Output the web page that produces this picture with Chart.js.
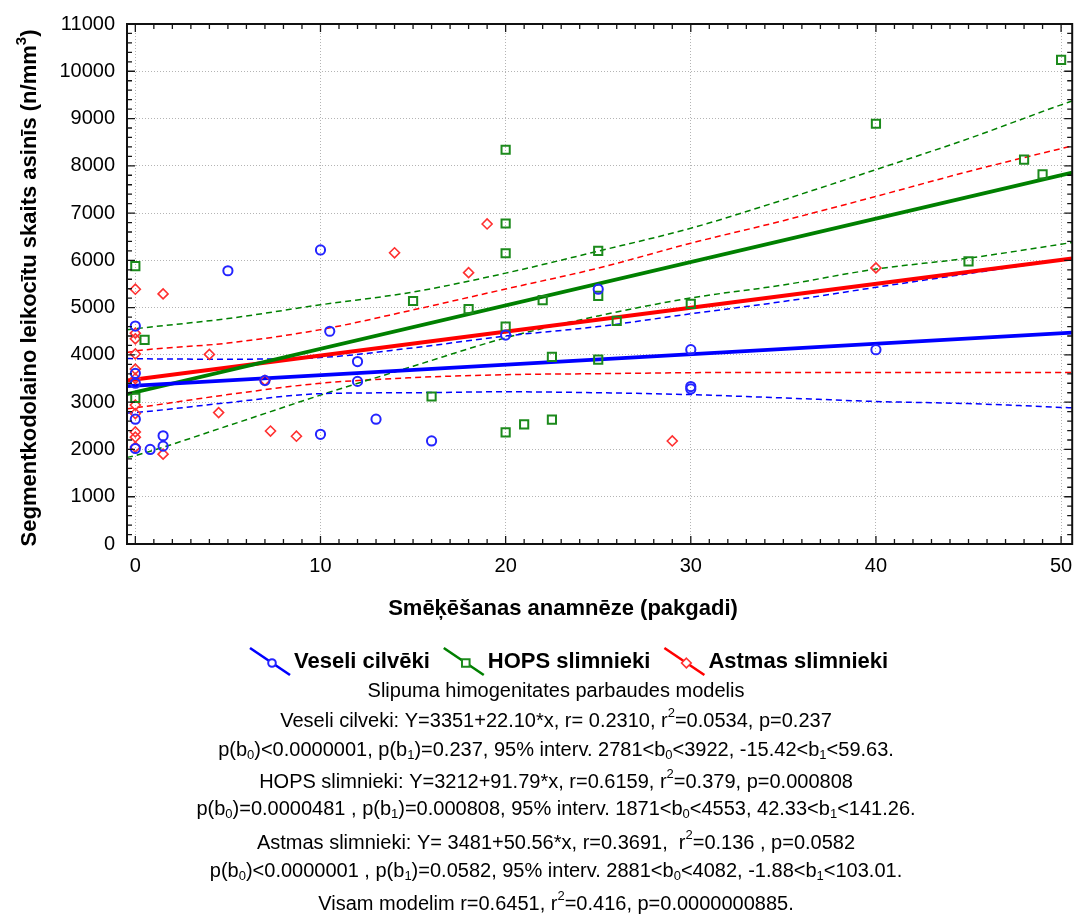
<!DOCTYPE html>
<html>
<head>
<meta charset="utf-8">
<script src="https://cdn.jsdelivr.net/npm/chart.js@4.4.1/dist/chart.umd.min.js"></script>
<style>
  html, body { margin: 0; padding: 0; background: #ffffff; }
  #wrap { width: 1080px; height: 923px; position: relative; }
  canvas { display: block; }
</style>
</head>
<body>
<div id="wrap"><canvas id="c" width="1080" height="923"></canvas></div>
<script>
const FONT = "'Liberation Sans', Arial, Helvetica, sans-serif";

// Axis ticks
const xTicks = [0, 10, 20, 30, 40, 50];
const yTicks = [0, 1000, 2000, 3000, 4000, 5000, 6000, 7000, 8000, 9000, 10000, 11000];
const xRange = [-0.45, 50.6];

// Series names
const seriesNames = ['Veseli cilvēki', 'HOPS slimnieki', 'Astmas slimnieki'];

// Veseli cilvēki (pack-years, cells per mm3)
const vesX = [0, 0, 0, 0, 0, 0.8, 1.5, 1.5, 5, 7, 10, 10, 10.5, 12, 12, 13, 16, 20, 25, 30, 30, 30, 40];
const vesY = [4610, 3610, 3400, 2640, 2020, 2000, 2290, 2070, 5780, 3460, 6220, 2320, 4500, 3860, 3440, 2640, 2180, 4420, 5390, 4110, 3330, 3280, 4110];

// HOPS slimnieki
const hopsX = [0, 0.5, 0, 15, 16, 18, 20, 20, 20, 20, 20, 21, 22, 22.5, 22.5, 25, 25, 25, 26, 30, 40, 45, 48, 49, 50];
const hopsY = [5880, 4320, 3090, 5140, 3120, 4970, 8340, 6780, 6150, 4600, 2360, 2530, 5160, 3960, 2630, 6200, 5250, 3900, 4720, 5080, 8890, 5980, 8130, 7820, 10240];

// Astmas slimnieki
const astX = [0, 0, 0, 0, 0, 0, 0, 0, 0, 0, 0, 1.5, 1.5, 4, 4.5, 7, 7.3, 8.7, 14, 18, 19, 29, 40];
const astY = [5390, 4460, 4340, 4020, 3700, 3500, 2940, 2760, 2370, 2260, 2050, 5290, 1900, 4010, 2780, 3460, 2390, 2280, 6160, 5740, 6770, 2180, 5840];

// Fitted lines Y = b0 + b1*x (Veseli, HOPS, Astmas)
const fitB0 = [3351, 3212, 3481];
const fitB1 = [22.10, 91.79, 50.56];

// 95% confidence bands, sampled along x
const bandX = [-0.45, 0, 5, 10, 15, 20, 25, 30, 35, 40, 45, 50, 50.6];
const vesUpper = [3925, 3920, 3910, 3945, 4150, 4400, 4600, 4870, 5130, 5430, 5720, 6010, 6045];
const vesLower = [2770, 2781, 2990, 3180, 3200, 3220, 3200, 3160, 3090, 3015, 2970, 2890, 2880];
const hopsUpper = [4530, 4553, 4770, 5060, 5330, 5730, 6195, 6680, 7280, 7920, 8575, 9290, 9370];
const hopsLower = [1830, 1871, 2500, 3150, 3760, 4361, 4825, 5204, 5480, 5815, 6047, 6342, 6380];
const astUpper = [4050, 4082, 4250, 4535, 4952, 5394, 5836, 6363, 6840, 7353, 7880, 8365, 8420];
const astLower = [2860, 2881, 3160, 3400, 3519, 3582, 3603, 3624, 3630, 3630, 3630, 3630, 3630];

// Statistics text under the legend (_{} subscript, ^{} superscript)
const statLines = [
  'Slipuma himogenitates parbaudes modelis',
  'Veseli cilveki: Y=3351+22.10*x, r= 0.2310, r^{2}=0.0534, p=0.237',
  'p(b_{0})<0.0000001, p(b_{1})=0.237, 95% interv. 2781<b_{0}<3922, -15.42<b_{1}<59.63.',
  'HOPS slimnieki: Y=3212+91.79*x, r=0.6159, r^{2}=0.379, p=0.000808',
  'p(b_{0})=0.0000481 , p(b_{1})=0.000808, 95% interv. 1871<b_{0}<4553, 42.33<b_{1}<141.26.',
  'Astmas slimnieki: Y= 3481+50.56*x, r=0.3691,  r^{2}=0.136 , p=0.0582',
  'p(b_{0})<0.0000001 , p(b_{1})=0.0582, 95% interv. 2881<b_{0}<4082, -1.88<b_{1}<103.01.',
  'Visam modelim r=0.6451, r^{2}=0.416, p=0.0000000885.'
];
const statY = [691, 721, 750, 782, 809, 843, 871, 904];

const xTitle = 'Smēķēšanas anamnēze (pakgadi)';
const yTitle = 'Segmentkodolaino leikocītu skaits asinīs (n/mm^{3})';

const colors = {
  line: ['#0000ff', '#008000', '#ff0000'],
  mark: ['#2424ff', '#1c8a1c', '#ff3030']
};
const markStyle = ['circle', 'rect', 'rectRot'];
const markRadius = [4.6, 5.8, 5.0];
const markWidth = [2, 2, 1.6];

const pts = (xs, ys) => xs.map((x, i) => ({ x: x, y: ys[i] }));
const fitPts = (k) => xRange.map(x => ({ x: x, y: fitB0[k] + fitB1[k] * x }));

function band(ys, k) {
  return {
    data: pts(bandX, ys), showLine: true, pointRadius: 0, borderColor: colors.line[k],
    borderWidth: 1.5, borderDash: [6, 4], cubicInterpolationMode: 'monotone', order: 3, fill: false
  };
}
function fitLine(k) {
  return {
    data: fitPts(k), showLine: true, pointRadius: 0, borderColor: colors.line[k],
    borderWidth: 3.8, order: 2, fill: false
  };
}
function marks(xs, ys, k) {
  return {
    label: seriesNames[k], data: pts(xs, ys), showLine: false, pointStyle: markStyle[k],
    pointRadius: markRadius[k], pointBorderWidth: markWidth[k], pointBorderColor: colors.mark[k],
    pointBackgroundColor: 'rgba(0,0,0,0)', order: 1
  };
}

// Rich text with sub/superscripts
function richParts(str) {
  const out = []; const re = /([_^])\{([^}]*)\}/g; let last = 0, m;
  while ((m = re.exec(str))) {
    if (m.index > last) out.push({ t: str.slice(last, m.index), k: '' });
    out.push({ t: m[2], k: m[1] });
    last = re.lastIndex;
  }
  if (last < str.length) out.push({ t: str.slice(last), k: '' });
  return out;
}
function drawRich(ctx, str, cx, cy, size, weight) {
  const parts = richParts(str);
  const small = Math.round(size * 0.66);
  let w = 0;
  parts.forEach(p => {
    ctx.font = weight + ' ' + (p.k ? small : size) + 'px ' + FONT;
    p.w = ctx.measureText(p.t).width; w += p.w;
  });
  let x = cx - w / 2;
  ctx.textAlign = 'left'; ctx.textBaseline = 'middle';
  parts.forEach(p => {
    ctx.font = weight + ' ' + (p.k ? small : size) + 'px ' + FONT;
    const dy = p.k === '_' ? size * 0.28 : (p.k === '^' ? -size * 0.36 : 0);
    ctx.fillText(p.t, x, cy + dy);
    x += p.w;
  });
}

function drawMarker(ctx, k, x, y) {
  ctx.save();
  ctx.strokeStyle = colors.mark[k]; ctx.lineWidth = markWidth[k];
  ctx.fillStyle = '#ffffff';
  ctx.beginPath();
  if (k === 0) ctx.arc(x, y, 3.8, 0, Math.PI * 2);
  else if (k === 1) ctx.rect(x - 3.8, y - 3.8, 7.6, 7.6);
  else { ctx.moveTo(x, y - 4.8); ctx.lineTo(x + 4.8, y); ctx.lineTo(x, y + 4.8); ctx.lineTo(x - 4.8, y); ctx.closePath(); }
  ctx.fill(); ctx.stroke();
  ctx.restore();
}

const framePlugin = {
  id: 'frameAndText',
  afterDatasetsDraw(chart) {
    const { ctx, chartArea: a, scales: { x, y } } = chart;
    ctx.save();
    ctx.strokeStyle = '#151515';
    ctx.lineWidth = 1.3;
    ctx.beginPath();
    for (let v = 0; v <= 50; v += 1) {
      const px = x.getPixelForValue(v);
      const len = v % 10 === 0 ? 8 : 5;
      ctx.moveTo(px, a.bottom); ctx.lineTo(px, a.bottom - len);
      ctx.moveTo(px, a.top); ctx.lineTo(px, a.top + len);
    }
    for (let v = 0; v <= 11000; v += 200) {
      const py = y.getPixelForValue(v);
      const len = v % 1000 === 0 ? 8 : 5;
      ctx.moveTo(a.left, py); ctx.lineTo(a.left + len, py);
      ctx.moveTo(a.right, py); ctx.lineTo(a.right - len, py);
    }
    ctx.stroke();
    ctx.lineWidth = 2;
    ctx.strokeStyle = '#111111';
    ctx.strokeRect(a.left, a.top, a.right - a.left, a.bottom - a.top);
    ctx.restore();
  },
  afterDraw(chart) {
    const { ctx } = chart;
    ctx.save();
    ctx.fillStyle = '#000000';

    // axis titles
    drawRich(ctx, xTitle, 563, 609, 22, 'bold');
    ctx.save();
    ctx.translate(30, 288);
    ctx.rotate(-Math.PI / 2);
    drawRich(ctx, yTitle, 0, 0, 22, 'bold');
    ctx.restore();

    // legend
    let lx = 250; const ly = 662;
    seriesNames.forEach((name, k) => {
      ctx.save();
      ctx.strokeStyle = colors.line[k]; ctx.lineWidth = 2.6;
      ctx.beginPath(); ctx.moveTo(lx, ly - 14); ctx.lineTo(lx + 40, ly + 13); ctx.stroke();
      ctx.restore();
      drawMarker(ctx, k, lx + 22, ly + 1);
      ctx.font = 'bold 22px ' + FONT;
      ctx.fillStyle = '#000000';
      ctx.textAlign = 'left'; ctx.textBaseline = 'middle';
      ctx.fillText(name, lx + 44, ly);
      lx += 44 + ctx.measureText(name).width + 14;
    });

    // statistics block
    statLines.forEach((s, i) => drawRich(ctx, s, 556, statY[i], 20, 'normal'));
    ctx.restore();
  }
};

const data = {
  datasets: [
    marks(vesX, vesY, 0), marks(hopsX, hopsY, 1), marks(astX, astY, 2),
    fitLine(0), fitLine(1), fitLine(2),
    band(vesUpper, 0), band(vesLower, 0),
    band(hopsUpper, 1), band(hopsLower, 1),
    band(astUpper, 2), band(astLower, 2)
  ]
};

new Chart(document.getElementById('c'), {
  type: 'scatter',
  data: data,
  options: {
    responsive: false, animation: false, devicePixelRatio: 1,
    layout: { padding: { left: 0, right: 4, top: 24, bottom: 299 } },
    plugins: { legend: { display: false }, tooltip: { enabled: false } },
    scales: {
      x: {
        type: 'linear', min: xRange[0], max: xRange[1],
        afterBuildTicks: s => { s.ticks = xTicks.map(v => ({ value: v })); },
        afterFit: s => { s.height = 80; s.paddingLeft = 0; s.paddingRight = 0; },
        ticks: { color: '#000', font: { family: FONT, size: 20 }, padding: 10, maxRotation: 0, autoSkip: false,
                 callback: v => String(v) },
        grid: { color: '#b4b4b4', lineWidth: 1, drawTicks: false },
        border: { display: false, dash: [1, 2] }
      },
      y: {
        type: 'linear', min: 0, max: 11000,
        afterBuildTicks: s => { s.ticks = yTicks.map(v => ({ value: v })); },
        afterFit: s => { s.width = 127; s.paddingTop = 0; s.paddingBottom = 0; },
        ticks: { color: '#000', font: { family: FONT, size: 20 }, padding: 12, autoSkip: false,
                 callback: v => String(v) },
        grid: { color: '#b4b4b4', lineWidth: 1, drawTicks: false },
        border: { display: false, dash: [1, 2] }
      }
    }
  },
  plugins: [framePlugin]
});
</script>
</body>
</html>
